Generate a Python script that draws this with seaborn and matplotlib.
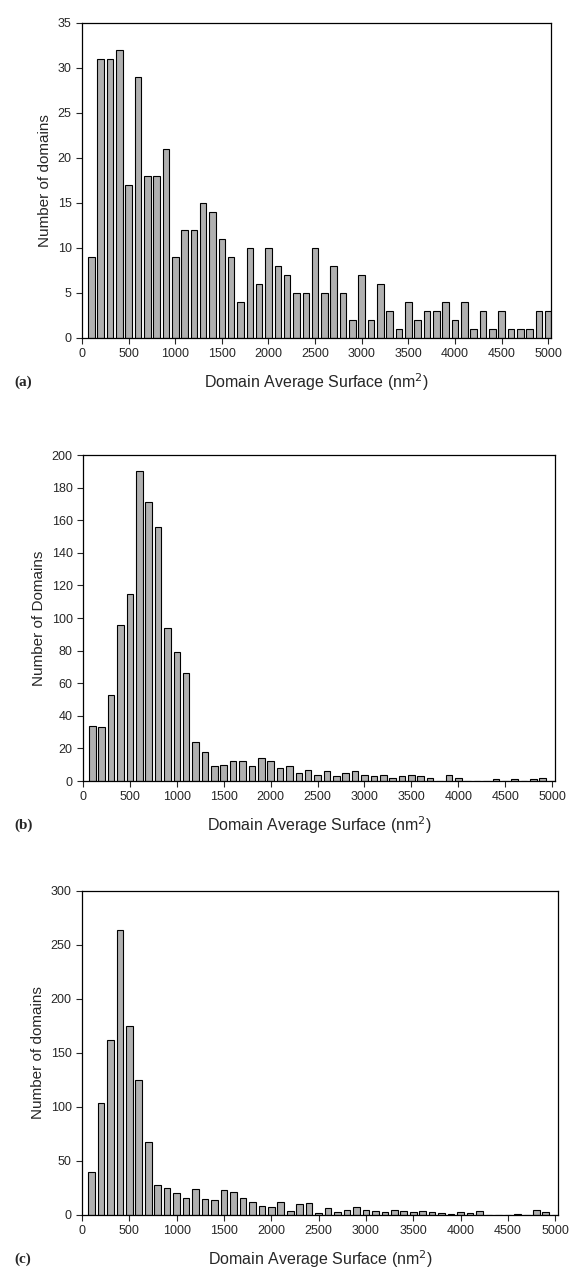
import numpy as np
import pandas as pd
import matplotlib
matplotlib.use("Agg")
import matplotlib.pyplot as plt
import seaborn as sns

# bin centres (nm^2), 100 nm^2 bins
surface = list(range(100, 5001, 100))

# (a) counts
counts_a = [9, 31, 31, 32, 17, 29, 18, 18, 21, 9,
            12, 12, 15, 14, 11, 9, 4, 10, 6, 10,
            8, 7, 5, 5, 10, 5, 8, 5, 2, 7,
            2, 6, 3, 1, 4, 2, 3, 3, 4, 2,
            4, 1, 3, 1, 3, 1, 1, 1, 3, 3]

# (b) counts
counts_b = [34, 33, 53, 96, 115, 190, 171, 156, 94, 79,
            66, 24, 18, 9, 10, 12, 12, 9, 14, 12,
            8, 9, 5, 7, 4, 6, 3, 5, 6, 4,
            3, 4, 2, 3, 4, 3, 2, 0, 4, 2,
            0, 0, 0, 1, 0, 1, 0, 1, 2, 0]

# (c) counts
counts_c = [40, 104, 162, 264, 175, 125, 68, 28, 25, 20,
            16, 24, 15, 14, 23, 21, 16, 12, 8, 7,
            12, 4, 10, 11, 2, 6, 3, 5, 7, 5,
            4, 3, 5, 4, 3, 4, 3, 2, 1, 3,
            2, 4, 0, 0, 0, 1, 0, 5, 3, 0]

ylabels = ["Number of domains", "Number of Domains", "Number of domains"]
yticks = [np.arange(0, 36, 5), np.arange(0, 201, 20), np.arange(0, 301, 50)]
panel_tags = ["(a)", "(b)", "(c)"]

sns.set_style("ticks")
plt.rcParams['font.family'] = ['Liberation Sans', 'DejaVu Sans']

fig = plt.figure(figsize=(5.87, 12.88), dpi=100)
# axes rectangles in figure fractions
rects = [[0.1397, 0.7376, 0.799, 0.2446],
         [0.1414, 0.3936, 0.804, 0.2531],
         [0.1397, 0.0567, 0.811, 0.2516]]

for i, counts in enumerate([counts_a, counts_b, counts_c]):
    ax = fig.add_axes(rects[i])
    df = pd.DataFrame({'surface': surface, 'count': counts})
    sns.barplot(data=df, x='surface', y='count', native_scale=True, width=0.7,
                color='#b0b0b0', saturation=1, edgecolor='black', linewidth=0.8,
                errorbar=None, ax=ax)
    ax.set_xlim(0, 5030)
    ax.set_ylim(0, yticks[i][-1])
    ax.set_xticks(np.arange(0, 5001, 500))
    ax.set_xticklabels([str(v) for v in range(0, 5001, 500)], fontsize=9)
    ax.set_yticks(yticks[i])
    ax.set_yticklabels([str(v) for v in yticks[i]], fontsize=9)
    ax.tick_params(direction='out', length=4, width=0.8)
    for s in ax.spines.values():
        s.set_linewidth(0.9)
        s.set_color('black')
    ax.set_ylabel(ylabels[i], fontsize=11)
    ax.set_xlabel('Domain Average Surface (nm$^2$)', fontsize=11.5, labelpad=8)
    # panel tag, on the same line as the x label
    lab_y = rects[i][1] - 0.0345
    fig.text(0.025, lab_y, panel_tags[i], fontsize=11, fontweight='bold',
             family='Liberation Serif', va='center')

fig.savefig('out.png', dpi=100)
